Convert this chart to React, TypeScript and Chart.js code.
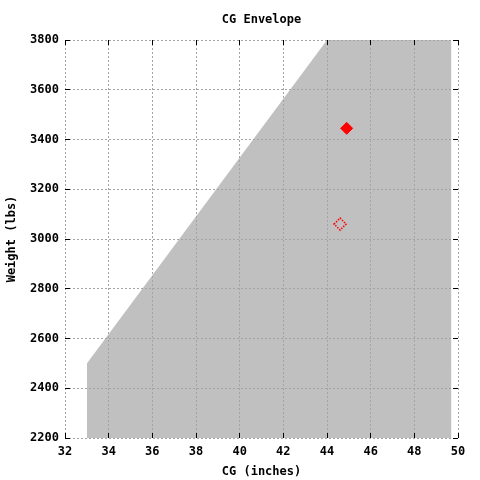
import React, { useEffect, useRef } from 'react';
import { Chart, registerables } from 'chart.js';

Chart.register(...registerables);

// envelope outline (upper edge), filled down to the bottom of the axis
const envelopeCg = [33, 44, 49.7];
const envelopeWeight = [2500, 3800, 3800];

// loaded and empty points
const loadedCg = [44.9];
const loadedWeight = [3445];
const emptyCg = [44.6];
const emptyWeight = [3060];

const xTicks = [32, 34, 36, 38, 40, 42, 44, 46, 48, 50];
const yTicks = [2200, 2400, 2600, 2800, 3000, 3200, 3400, 3600, 3800];

const FONT = "'DejaVu Sans Mono', 'Liberation Mono', monospace";

const innerTicks = {
  id: 'innerTicks',
  afterDraw(chart: any) {
    const { ctx, chartArea } = chart;
    const xs = chart.scales.x;
    const ys = chart.scales.y;
    const align = (p: number) => Math.round(p - 0.5) + 0.5;
    ctx.save();
    ctx.strokeStyle = '#000';
    ctx.lineWidth = 1;
    ctx.beginPath();
    xTicks.forEach(v => {
      const px = align(xs.getPixelForValue(v));
      ctx.moveTo(px, chartArea.bottom);
      ctx.lineTo(px, chartArea.bottom - 5);
      ctx.moveTo(px, chartArea.top);
      ctx.lineTo(px, chartArea.top + 5);
    });
    yTicks.forEach(v => {
      const py = align(ys.getPixelForValue(v));
      ctx.moveTo(chartArea.left, py);
      ctx.lineTo(chartArea.left + 5, py);
      ctx.moveTo(chartArea.right, py);
      ctx.lineTo(chartArea.right - 5, py);
    });
    ctx.stroke();
    ctx.restore();
  },
};

// dotted outline for the empty-weight marker
const dottedMarker = {
  id: 'dottedMarker',
  beforeDatasetDraw(chart: any, args: any) {
    if (args.index === 2) chart.ctx.setLineDash([1.4, 1.4]);
  },
  afterDatasetDraw(chart: any, args: any) {
    if (args.index === 2) chart.ctx.setLineDash([]);
  },
};

const App: React.FC = () => {
  const chartRef = useRef<HTMLCanvasElement>(null);
  const chartInstance = useRef<Chart | null>(null);

  useEffect(() => {
    if (!chartRef.current) return;
    if (chartInstance.current) chartInstance.current.destroy();
    const ctx = chartRef.current.getContext('2d');
    if (!ctx) return;

    const font = { family: FONT, size: 12, weight: 'bold' as const };

    chartInstance.current = new Chart(ctx, {
      type: 'scatter',
      data: {
        datasets: [
          {
            label: 'Envelope',
            data: envelopeCg.map((x, i) => ({ x, y: envelopeWeight[i] })),
            showLine: true,
            fill: 'start',
            backgroundColor: '#c0c0c0',
            borderWidth: 0,
            pointRadius: 0,
            order: 3,
          },
          {
            label: 'Loaded',
            data: loadedCg.map((x, i) => ({ x, y: loadedWeight[i] })),
            pointStyle: 'rectRot',
            pointRadius: 6,
            backgroundColor: '#ff0000',
            borderColor: '#ff0000',
            borderWidth: 1,
            order: 1,
          },
          {
            label: 'Empty',
            data: emptyCg.map((x, i) => ({ x, y: emptyWeight[i] })),
            pointStyle: 'rectRot',
            pointRadius: 6,
            backgroundColor: 'rgba(0,0,0,0)',
            borderColor: '#ff0000',
            borderWidth: 1.6,
            order: 2,
          },
        ],
      },
      options: {
        animation: false,
        responsive: true,
        maintainAspectRatio: false,
        devicePixelRatio: 1,
        layout: { padding: { left: 0, right: 22, top: 0, bottom: 0 } },
        plugins: {
          legend: { display: false },
          tooltip: { enabled: false },
          title: {
            display: true,
            text: 'CG Envelope',
            color: '#000',
            fullSize: false,
            font,
            padding: { top: 13, bottom: 12.6 },
          },
        },
        scales: {
          x: {
            type: 'linear',
            min: 32,
            max: 50,
            afterFit: (s: any) => { s.height = 42; },
            border: { display: false, dash: [2, 2] },
            grid: {
              z: 1,
              color: '#a4a4a4',
              lineWidth: 1,
              drawTicks: false,
            },
            ticks: {
              stepSize: 2,
              color: '#000',
              font,
              padding: 7,
              callback: (v: any) => String(v),
            },
            title: {
              display: true,
              text: 'CG (inches)',
              color: '#000',
              font,
              padding: { top: 4, bottom: 1 },
            },
          },
          y: {
            type: 'linear',
            min: 2200,
            max: 3800,
            afterFit: (s: any) => { s.width = 65; },
            border: { display: false, dash: [2, 2] },
            grid: {
              z: 1,
              color: '#a4a4a4',
              lineWidth: 1,
              drawTicks: false,
            },
            ticks: {
              stepSize: 200,
              color: '#000',
              font,
              padding: 6,
              callback: (v: any) => String(v),
            },
            title: {
              display: true,
              text: 'Weight (lbs)',
              color: '#000',
              font,
              padding: { top: 5, bottom: 0 },
            },
          },
        },
      },
      plugins: [innerTicks, dottedMarker],
    });

    return () => {
      if (chartInstance.current) {
        chartInstance.current.destroy();
        chartInstance.current = null;
      }
    };
  }, []);

  return (
    <div style={{ position: 'absolute', left: 0, top: 0, width: 480, height: 480 }}>
      <canvas ref={chartRef} />
    </div>
  );
};

export default App;
